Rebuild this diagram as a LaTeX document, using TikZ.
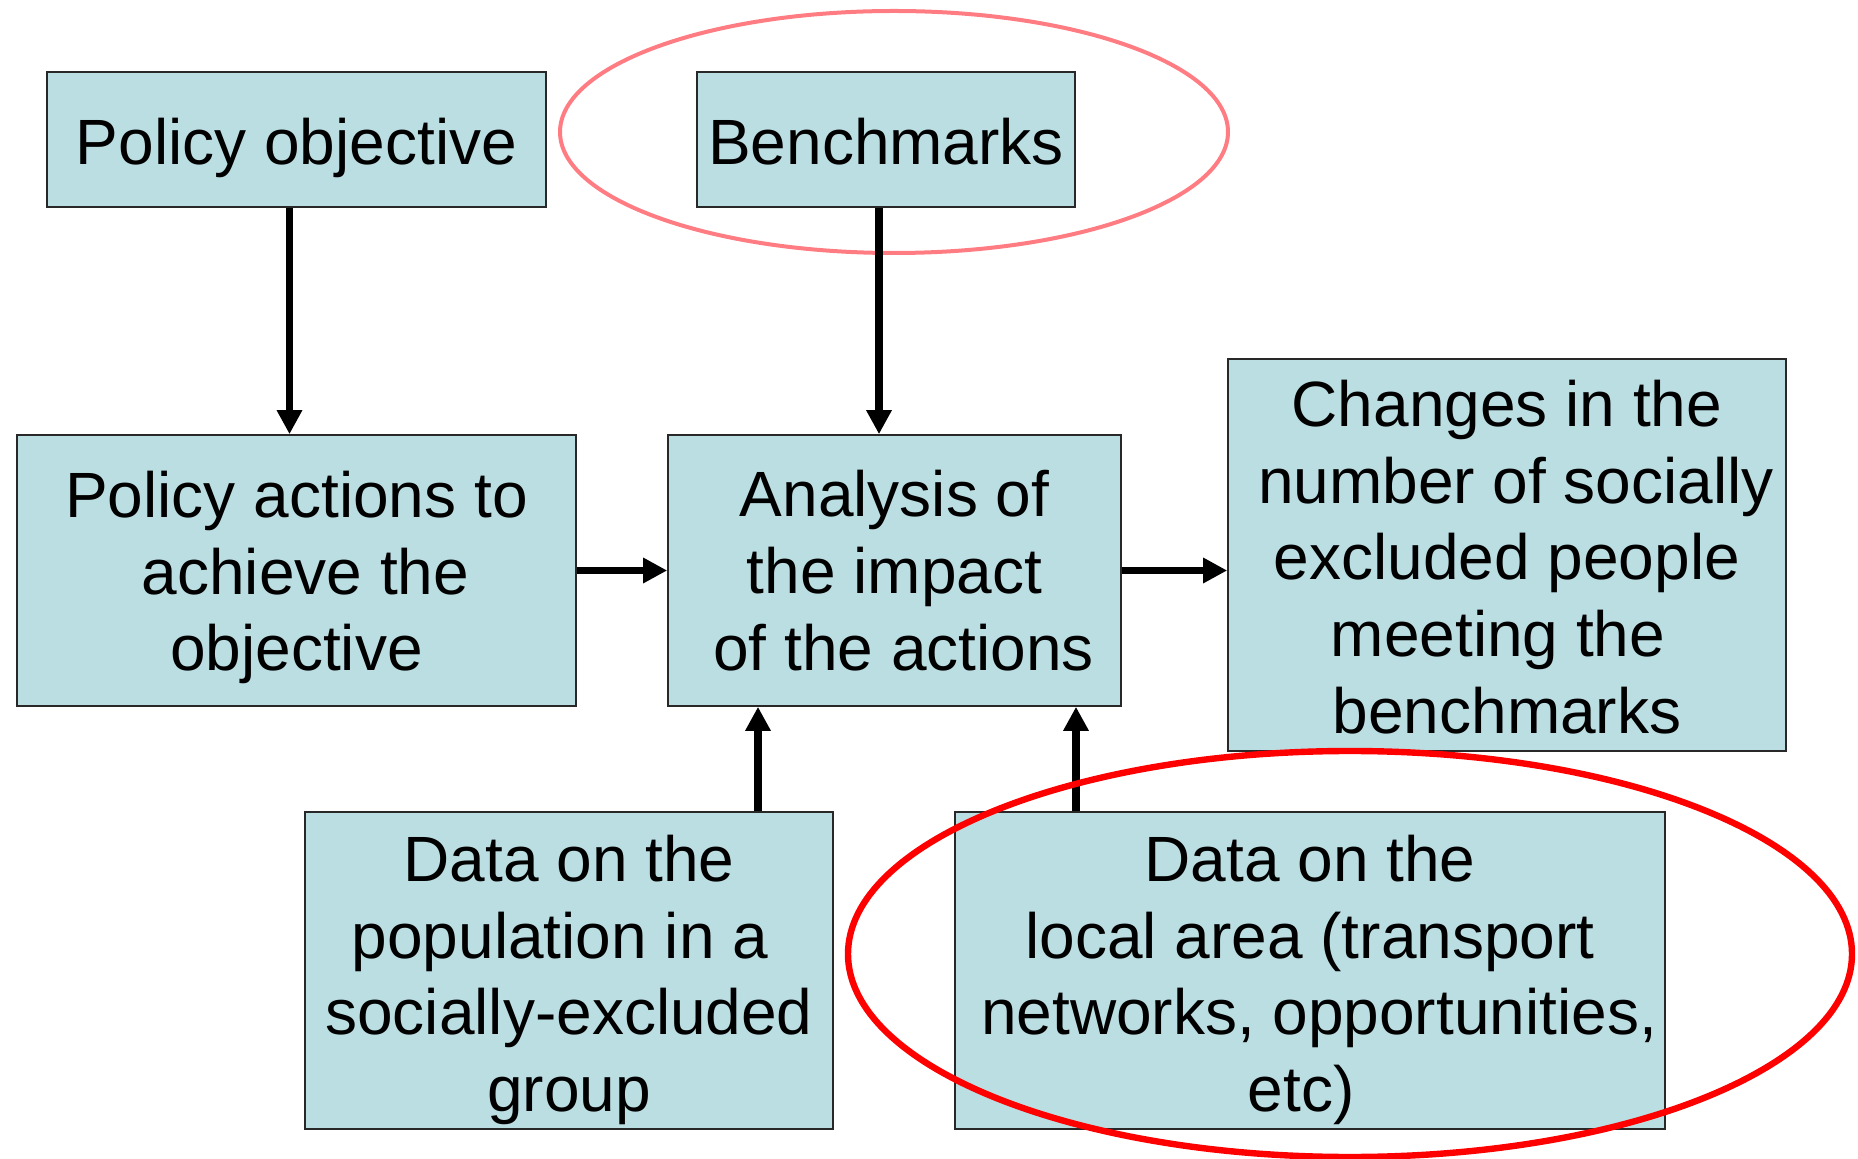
\documentclass[tikz,border=0pt]{standalone}
\usepackage{fontspec}
\setmainfont{Liberation Sans}
\usetikzlibrary{arrows.meta,calc}
\definecolor{boxfill}{RGB}{187,222,227}
\definecolor{boxline}{RGB}{40,40,40}
\definecolor{pinkring}{RGB}{255,125,130}
\definecolor{redring}{RGB}{255,0,0}
\newcommand{\padsp}{\hspace*{9pt}}
\newcommand{\padend}{\hspace*{9pt}\mbox{}}
\tikzset{
  box/.style={draw=boxline, line width=0.8pt, fill=boxfill, inner sep=0pt},
  txt/.style={align=center, inner sep=0pt, font=\fontsize{32}{38.4}\selectfont},
  arr/.style={line width=3.8pt, -{Triangle[length=12pt,width=12pt]}},
}
\begin{document}
\begin{tikzpicture}[x=1pt,y=1pt]
\useasboundingbox (0,0) rectangle (929,-579.5);
% pink ellipse (behind)
\draw[pinkring, line width=2pt] (447,-66) ellipse [x radius=167, y radius=60.5];
% boxes
\node[box, minimum width=249.5pt, minimum height=67.5pt] (PO) at (148.25,-69.75) {};
\node[box, minimum width=189pt, minimum height=67.5pt] (BM) at (443,-69.75) {};
\node[box, minimum width=279.5pt, minimum height=135.5pt] (PA) at (148.25,-285.25) {};
\node[box, minimum width=226.5pt, minimum height=135.5pt] (AN) at (447.25,-285.25) {};
\node[box, minimum width=279pt, minimum height=196pt] (CH) at (753.5,-277.5) {};
\node[box, minimum width=264pt, minimum height=158.5pt] (DP) at (284.5,-485.25) {};
\node[box, minimum width=355pt, minimum height=158.5pt] (DL) at (655,-485.25) {};
% texts
\node[txt] (POt) at ([yshift=-4pt]PO.center) {Policy objective};
\node[txt] (BMt) at ([yshift=-1.3pt]BM.center) {Benchmarks};
\node[txt] (PAt) at ([yshift=-3.5pt]PA.center) {Policy actions to\\\padsp achieve the\\objective};
\node[txt] (ANt) at (AN.center) {Analysis of\\the impact\\\padsp of the actions};
\node[txt] (CHt) at ([yshift=-1pt]CH.center) {Changes in the\\\padsp number of socially\\excluded people\\meeting the\padend\\benchmarks};
\node[txt] (DPt) at ([yshift=-4.7pt]DP.center) {Data on the\\population in a\padend\\socially-excluded\\group};
\node[txt] (DLt) at ([yshift=-4.7pt]DL.center) {Data on the\\local area (transport\\\padsp networks, opportunities,\\etc)\padend};
% connectors
\draw[arr] ([xshift=-3.5pt]PO.south) -- ([xshift=-3.5pt]PA.north);
\draw[arr] ([xshift=-3.5pt]BM.south) -- ([xshift=-3.5pt]BM.south |- AN.north);
\draw[arr] (PA.east) -- (AN.west);
\draw[arr] (AN.east) -- (AN.east -| CH.west);
\draw[arr] ([xshift=94.5pt]DP.north) -- ([xshift=94.5pt]DP.north |- AN.south);
\draw[arr] ([xshift=-117pt]DL.north) -- ([xshift=-117pt]DL.north |- AN.south);
% red ellipse (front)
\draw[redring, line width=3.2pt] (675,-477) ellipse [x radius=251, y radius=101.5];
\end{tikzpicture}
\end{document}
